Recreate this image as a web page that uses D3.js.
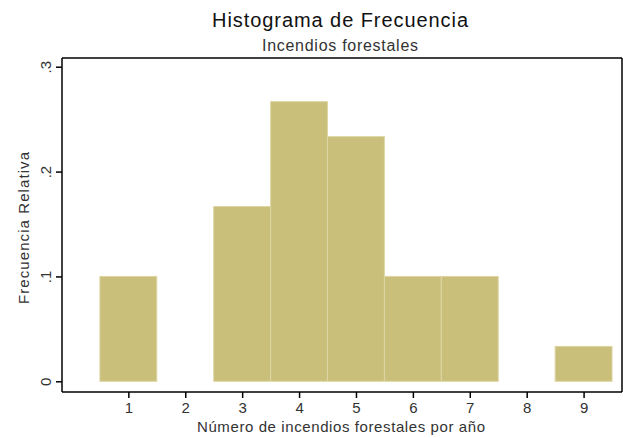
<!DOCTYPE html>
<html>
<head>
<meta charset="utf-8">
<script src="https://cdn.jsdelivr.net/npm/d3@7"></script>
<style>
  body { margin: 0; background: #fff; }
  text { font-family: "Liberation Sans", Arial, sans-serif; }
  .axis path, .axis line { stroke: #000; stroke-width: 1.5; }
  .axis text { font-size: 15px; fill: #333; }
</style>
</head>
<body>
<div id="chart"></div>
<script>
// data: relative frequency of forest fires per year
var bins = [1, 2, 3, 4, 5, 6, 7, 8, 9];
var freq = [0.1, 0, 0.1667, 0.2667, 0.2333, 0.1, 0.1, 0, 0.0333];
var xTicks = [1, 2, 3, 4, 5, 6, 7, 8, 9];
var yTicks = [0, 0.1, 0.2, 0.3];
var yTickLabels = ["0", ".1", ".2", ".3"];

var W = 623, H = 438;
var margin = {top: 58, right: 1, bottom: 46, left: 62},
    width = W - margin.left - margin.right,
    height = H - margin.top - margin.bottom;

var svg = d3.select("#chart").append("svg")
    .attr("width", W)
    .attr("height", H);

var g = svg.append("g")
    .attr("transform", "translate(" + margin.left + "," + margin.top + ")");

var x = d3.scaleLinear().domain([-0.166, 9.675]).range([0, width]);
var y = d3.scaleLinear().domain([-0.0102, 0.3083]).range([height, 0]);

// bars
g.selectAll(".bar")
    .data(bins.map(function(b, i) { return {bin: b, v: freq[i]}; }).filter(function(d) { return d.v > 0; }))
    .enter().append("rect")
    .attr("class", "bar")
    .attr("x", function(d) { return x(d.bin - 0.5); })
    .attr("width", function(d) { return x(d.bin + 0.5) - x(d.bin - 0.5); })
    .attr("y", function(d) { return y(d.v); })
    .attr("height", function(d) { return y(0) - y(d.v); })
    .attr("fill", "#c9bf7b")
    .attr("stroke", "#ddd6a4")
    .attr("stroke-width", 1);

// frame top and right
g.append("line").attr("x1", 0).attr("x2", width).attr("y1", 0).attr("y2", 0)
    .attr("stroke", "#000").attr("stroke-width", 1.5);
g.append("line").attr("x1", width).attr("x2", width).attr("y1", 0).attr("y2", height)
    .attr("stroke", "#000").attr("stroke-width", 1.5);

// axes
var xAxis = d3.axisBottom(x).tickValues(xTicks).tickSize(6).tickPadding(4).tickSizeOuter(0);
var yAxis = d3.axisLeft(y).tickValues(yTicks).tickSize(6).tickSizeOuter(0)
    .tickFormat(function(d, i) { return yTickLabels[i]; });

var gx = g.append("g")
    .attr("class", "x axis")
    .attr("transform", "translate(0," + height + ")")
    .call(xAxis);
gx.select(".domain").attr("d", "M0,0H" + width);

var gy = g.append("g")
    .attr("class", "y axis")
    .call(yAxis);
gy.select(".domain").attr("d", "M0,0V" + height);
gy.selectAll(".tick text")
    .attr("transform", "rotate(-90)")
    .attr("x", 0)
    .attr("y", -11)
    .attr("dy", 0)
    .style("text-anchor", "middle");

// labels (stretched a little, the original text is set wide)
svg.append("text")
    .attr("x", 340).attr("y", 27)
    .attr("textLength", 256).attr("lengthAdjust", "spacing")
    .style("text-anchor", "middle")
    .style("font-size", "20px")
    .style("fill", "#111")
    .text("Histograma de Frecuencia");

svg.append("text")
    .attr("x", 340).attr("y", 51)
    .attr("textLength", 156).attr("lengthAdjust", "spacing")
    .style("text-anchor", "middle")
    .style("font-size", "16px")
    .style("fill", "#333")
    .text("Incendios forestales");

svg.append("text")
    .attr("transform", "rotate(-90)")
    .attr("x", -228).attr("y", 29)
    .attr("textLength", 152).attr("lengthAdjust", "spacing")
    .style("text-anchor", "middle")
    .style("font-size", "15px")
    .style("fill", "#333")
    .text("Frecuencia Relativa");

svg.append("text")
    .attr("x", 341).attr("y", 432)
    .attr("textLength", 288).attr("lengthAdjust", "spacing")
    .style("text-anchor", "middle")
    .style("font-size", "15px")
    .style("fill", "#333")
    .text("Número de incendios forestales por año");
</script>
</body>
</html>
